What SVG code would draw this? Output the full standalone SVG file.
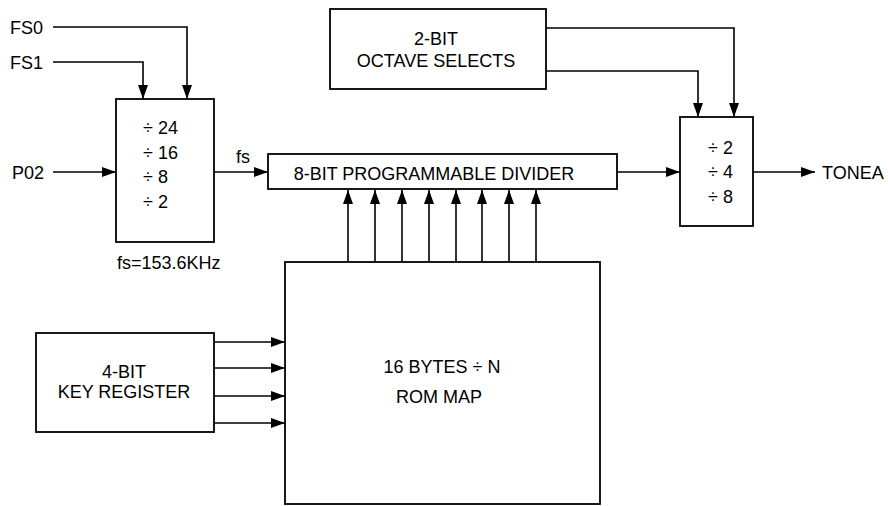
<svg xmlns="http://www.w3.org/2000/svg" width="888" height="506" viewBox="0 0 888 506">
<defs>
<marker id="ah" viewBox="0 0 14 10" refX="14" refY="5" markerWidth="14" markerHeight="10" markerUnits="userSpaceOnUse" orient="auto">
<path d="M0,0 L14,5 L0,10 Z" fill="#000"/>
</marker>
<style>
.box{fill:#fff;stroke:#000;stroke-width:1.8}
.ln{fill:none;stroke:#000;stroke-width:1.6}
.t{font-family:"Liberation Sans",Arial,sans-serif;font-size:18px;fill:#000}
.c{text-anchor:middle}
</style>
</defs>
<rect width="888" height="506" fill="#fff"/>
<g id="connectors">
<path class="ln" d="M53,27 H187 V99" marker-end="url(#ah)"/>
<path class="ln" d="M53,62 H143 V99" marker-end="url(#ah)"/>
<path class="ln" d="M53,172 H116" marker-end="url(#ah)"/>
<path class="ln" d="M214,172 H268" marker-end="url(#ah)"/>
<path class="ln" d="M617,172 H680" marker-end="url(#ah)"/>
<path class="ln" d="M753,172 H815" marker-end="url(#ah)"/>
<path class="ln" d="M546,28 H734 V117" marker-end="url(#ah)"/>
<path class="ln" d="M546,71 H698 V117" marker-end="url(#ah)"/>
<path class="ln" d="M348,262 V190" marker-end="url(#ah)"/>
<path class="ln" d="M375,262 V190" marker-end="url(#ah)"/>
<path class="ln" d="M402,262 V190" marker-end="url(#ah)"/>
<path class="ln" d="M429,262 V190" marker-end="url(#ah)"/>
<path class="ln" d="M456,262 V190" marker-end="url(#ah)"/>
<path class="ln" d="M482,262 V190" marker-end="url(#ah)"/>
<path class="ln" d="M509,262 V190" marker-end="url(#ah)"/>
<path class="ln" d="M536,262 V190" marker-end="url(#ah)"/>
<path class="ln" d="M214,342 H285" marker-end="url(#ah)"/>
<path class="ln" d="M214,368 H285" marker-end="url(#ah)"/>
<path class="ln" d="M214,396 H285" marker-end="url(#ah)"/>
<path class="ln" d="M214,423 H285" marker-end="url(#ah)"/>
</g>
<g id="labels">
<text class="t" x="10" y="34">FS0</text>
<text class="t" x="10" y="69">FS1</text>
<text class="t" x="12" y="179">P02</text>
<text class="t" x="236" y="163">fs</text>
<text class="t" x="117" y="269">fs=153.6KHz</text>
<text class="t" x="822" y="179">TONEA</text>
</g>
<g id="prescaler">
<rect class="box" x="116" y="99" width="98" height="143"/>
<text class="t" x="143" y="134">÷ 24</text>
<text class="t" x="143" y="159">÷ 16</text>
<text class="t" x="143" y="183">÷ 8</text>
<text class="t" x="143" y="208">÷ 2</text>
</g>
<g id="octave-selects">
<rect class="box" x="330" y="9" width="216" height="80"/>
<text class="t c" x="436" y="45">2-BIT</text>
<text class="t c" x="436" y="67">OCTAVE SELECTS</text>
</g>
<g id="prog-divider">
<rect class="box" x="268" y="154" width="349" height="35"/>
<text class="t c" x="434" y="180">8-BIT PROGRAMMABLE DIVIDER</text>
</g>
<g id="octave-divider">
<rect class="box" x="680" y="117" width="73" height="109"/>
<text class="t" x="708" y="154">÷ 2</text>
<text class="t" x="708" y="178">÷ 4</text>
<text class="t" x="708" y="203">÷ 8</text>
</g>
<g id="key-register">
<rect class="box" x="36" y="333" width="178" height="99"/>
<text class="t c" x="124" y="378">4-BIT</text>
<text class="t c" x="124" y="398">KEY REGISTER</text>
</g>
<g id="rom-map">
<rect class="box" x="285" y="262" width="315" height="242"/>
<text class="t c" x="442" y="373">16 BYTES ÷ N</text>
<text class="t c" x="439" y="403">ROM MAP</text>
</g>
</svg>
